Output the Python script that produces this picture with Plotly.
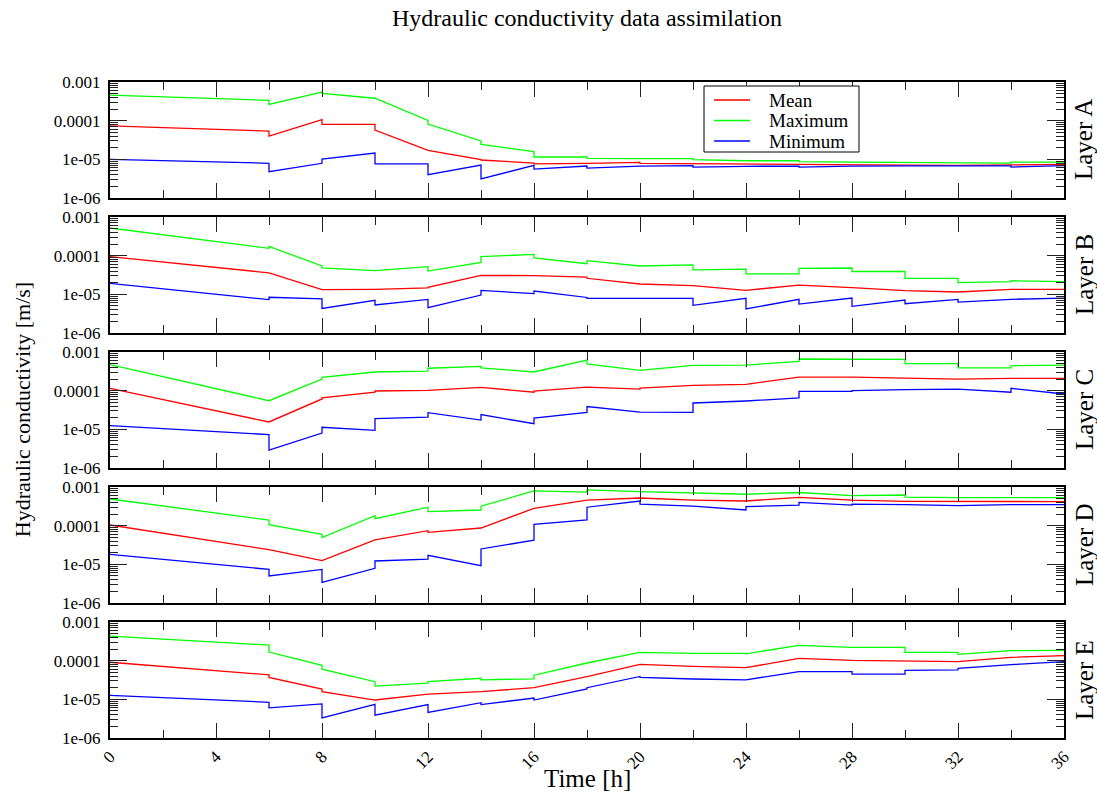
import plotly.graph_objects as go
from plotly.subplots import make_subplots

times = [0, 6, 8, 10, 12, 14, 16, 18, 20, 22, 24, 26, 28, 30, 32, 34, 36]
layers = ["Layer A", "Layer B", "Layer C", "Layer D", "Layer E"]
series_names = ["Mean", "Maximum", "Minimum"]
series_colors = ["#ff0000", "#00ff00", "#0000ff"]

# value reached just before each update time ("in") and value right after the update ("out")
a_mean_in  = [7.3e-5, 5.4e-5, 1.06e-4, 8.0e-5, 1.71e-5, 9.8e-6, 8.0e-6, 7.9e-6, 8.3e-6, 7.7e-6, 7.4e-6, 7.3e-6, 7.3e-6, 7.1e-6, 7.0e-6, 7.3e-6, 7.4e-6]
a_mean_out = [7.3e-5, 4.0e-5, 8.0e-5, 5.7e-5, 1.71e-5, 9.6e-6, 7.6e-6, 7.9e-6, 7.9e-6, 7.7e-6, 7.4e-6, 7.3e-6, 7.3e-6, 7.1e-6, 7.0e-6, 7.3e-6, 7.4e-6]
a_max_in   = [4.6e-4, 3.36e-4, 5.5e-4, 3.8e-4, 1.02e-4, 2.98e-5, 1.58e-5, 1.15e-5, 1.04e-5, 1.04e-5, 9.2e-6, 9.2e-6, 8.5e-6, 8.4e-6, 8.2e-6, 8.0e-6, 8.5e-6]
a_max_out  = [4.6e-4, 2.64e-4, 5.1e-4, 3.8e-4, 8.2e-5, 2.44e-5, 1.15e-5, 1.06e-5, 1.04e-5, 9.8e-6, 9.2e-6, 8.7e-6, 8.5e-6, 8.4e-6, 8.2e-6, 8.5e-6, 8.5e-6]
a_min_in   = [1.0e-5, 7.9e-6, 7.9e-6, 1.46e-5, 7.6e-6, 7.1e-6, 7.0e-6, 6.7e-6, 6.7e-6, 6.9e-6, 6.6e-6, 6.7e-6, 6.7e-6, 6.8e-6, 6.8e-6, 6.8e-6, 6.9e-6]
a_min_out  = [1.0e-5, 4.8e-6, 1.02e-5, 7.6e-6, 4.0e-6, 3.1e-6, 5.6e-6, 5.9e-6, 6.7e-6, 6.3e-6, 6.6e-6, 6.3e-6, 6.7e-6, 6.8e-6, 6.8e-6, 6.3e-6, 6.9e-6]

b_mean_in  = [9.4e-5, 3.6e-5, 1.32e-5, 1.35e-5, 1.46e-5, 3.1e-5, 3.04e-5, 2.8e-5, 1.85e-5, 1.67e-5, 1.27e-5, 1.74e-5, 1.49e-5, 1.25e-5, 1.15e-5, 1.35e-5, 1.35e-5]
b_mean_out = [9.4e-5, 3.6e-5, 1.32e-5, 1.35e-5, 1.52e-5, 3.1e-5, 3.04e-5, 2.6e-5, 1.85e-5, 1.67e-5, 1.27e-5, 1.74e-5, 1.49e-5, 1.25e-5, 1.15e-5, 1.35e-5, 1.35e-5]
b_max_in   = [5.2e-4, 1.55e-4, 5.4e-5, 4.1e-5, 5.2e-5, 6.7e-5, 1.08e-4, 6.2e-5, 5.4e-5, 5.8e-5, 4.5e-5, 3.4e-5, 4.8e-5, 3.9e-5, 2.6e-5, 2.13e-5, 2.13e-5]
b_max_out  = [5.2e-4, 1.74e-4, 4.8e-5, 4.1e-5, 4.0e-5, 9.4e-5, 8.7e-5, 7.4e-5, 5.4e-5, 4.3e-5, 3.4e-5, 4.7e-5, 3.9e-5, 2.6e-5, 2.0e-5, 2.25e-5, 2.13e-5]
b_min_in   = [1.92e-5, 7.3e-6, 7.6e-6, 7.0e-6, 7.4e-6, 9.6e-6, 1.04e-5, 8.3e-6, 7.9e-6, 7.9e-6, 7.9e-6, 7.4e-6, 8.0e-6, 7.1e-6, 7.4e-6, 7.4e-6, 8.0e-6]
b_min_out  = [1.92e-5, 8.4e-6, 4.3e-6, 5.3e-6, 4.5e-6, 1.27e-5, 1.22e-5, 7.9e-6, 7.9e-6, 5.2e-6, 4.2e-6, 5.6e-6, 4.9e-6, 5.7e-6, 6.3e-6, 7.4e-6, 8.0e-6]

c_mean_in  = [1.15e-4, 1.55e-5, 6.1e-5, 9.2e-5, 1.02e-4, 1.22e-4, 9.1e-5, 1.24e-4, 1.1e-4, 1.37e-4, 1.46e-4, 2.25e-4, 2.25e-4, 2.08e-4, 2.0e-4, 2.08e-4, 2.08e-4]
c_mean_out = [1.15e-4, 1.55e-5, 6.5e-5, 9.8e-5, 1.02e-4, 1.22e-4, 9.8e-5, 1.24e-4, 1.17e-4, 1.37e-4, 1.46e-4, 2.25e-4, 2.25e-4, 2.08e-4, 2.0e-4, 2.08e-4, 2.08e-4]
c_max_in   = [4.7e-4, 5.5e-5, 2.0e-4, 3.04e-4, 3.2e-4, 4.25e-4, 3.04e-4, 6.2e-4, 3.36e-4, 4.5e-4, 4.6e-4, 5.7e-4, 6.6e-4, 6.45e-4, 5.0e-4, 3.9e-4, 4.6e-4]
c_max_out  = [4.7e-4, 5.5e-5, 2.2e-4, 3.04e-4, 3.8e-4, 3.9e-4, 3.04e-4, 4.9e-4, 3.36e-4, 4.5e-4, 4.6e-4, 6.6e-4, 6.6e-4, 5.0e-4, 3.9e-4, 4.4e-4, 4.6e-4]
c_min_in   = [1.25e-5, 7.3e-6, 8.0e-6, 9.4e-6, 2.08e-5, 1.74e-5, 1.4e-5, 2.75e-5, 2.8e-5, 2.75e-5, 5.4e-5, 6.5e-5, 9.6e-5, 1.06e-4, 1.1e-4, 9.1e-5, 8.2e-5]
c_min_out  = [1.25e-5, 2.9e-6, 1.13e-5, 1.89e-5, 2.7e-5, 2.4e-5, 1.96e-5, 3.9e-5, 2.8e-5, 4.8e-5, 5.4e-5, 9.6e-5, 1.0e-4, 1.06e-4, 1.1e-4, 1.15e-4, 8.2e-5]

d_mean_in  = [1.04e-4, 2.4e-5, 1.25e-5, 4.3e-5, 7.4e-5, 8.7e-5, 2.8e-4, 4.6e-4, 5.2e-4, 4.6e-4, 4.35e-4, 5.4e-4, 4.6e-4, 4.25e-4, 4.2e-4, 4.25e-4, 4.2e-4]
d_mean_out = [1.04e-4, 2.4e-5, 1.25e-5, 4.3e-5, 6.7e-5, 8.7e-5, 2.8e-4, 4.6e-4, 5.2e-4, 4.6e-4, 4.35e-4, 5.4e-4, 4.6e-4, 4.25e-4, 4.2e-4, 4.25e-4, 4.2e-4]
d_max_in   = [4.9e-4, 1.4e-4, 6.0e-5, 1.82e-4, 3.0e-4, 2.54e-4, 7.9e-4, 7.4e-4, 7.6e-4, 7.1e-4, 6.5e-4, 7.2e-4, 6.0e-4, 6.2e-4, 5.3e-4, 5.4e-4, 5.3e-4]
d_max_out  = [4.9e-4, 1.06e-4, 4.9e-5, 1.52e-4, 2.3e-4, 3.2e-4, 7.9e-4, 8.4e-4, 7.6e-4, 7.1e-4, 6.5e-4, 7.2e-4, 6.0e-4, 5.5e-4, 5.3e-4, 5.4e-4, 5.3e-4]
d_min_in   = [1.8e-5, 7.4e-6, 7.4e-6, 7.9e-6, 1.37e-5, 9.2e-6, 4.2e-5, 1.4e-4, 4.35e-4, 3.2e-4, 2.54e-4, 3.4e-4, 3.4e-4, 3.5e-4, 3.3e-4, 3.5e-4, 3.5e-4]
d_min_out  = [1.8e-5, 5.0e-6, 3.4e-6, 1.22e-5, 1.71e-5, 2.5e-5, 1.08e-4, 3.0e-4, 3.6e-4, 3.2e-4, 3.1e-4, 4.0e-4, 3.6e-4, 3.5e-4, 3.3e-4, 3.5e-4, 3.5e-4]

e_mean_in  = [9.1e-5, 4.3e-5, 1.85e-5, 9.6e-6, 1.37e-5, 1.58e-5, 2.0e-5, 3.85e-5, 8.0e-5, 7.1e-5, 6.6e-5, 1.15e-4, 1.02e-4, 9.6e-5, 9.4e-5, 1.22e-4, 1.35e-4]
e_mean_out = [9.1e-5, 3.7e-5, 1.58e-5, 9.6e-6, 1.37e-5, 1.58e-5, 2.0e-5, 3.85e-5, 8.0e-5, 7.1e-5, 6.6e-5, 1.15e-4, 1.02e-4, 9.6e-5, 9.4e-5, 1.22e-4, 1.35e-4]
e_max_in   = [4.3e-4, 2.54e-4, 7.6e-5, 2.86e-5, 2.64e-5, 3.5e-5, 3.4e-5, 8.4e-5, 1.64e-4, 1.55e-4, 1.55e-4, 2.5e-4, 2.2e-4, 2.2e-4, 1.64e-4, 1.82e-4, 1.85e-4]
e_max_out  = [4.3e-4, 1.67e-4, 6.0e-5, 2.2e-5, 2.86e-5, 3.2e-5, 4.2e-5, 8.7e-5, 1.64e-4, 1.55e-4, 1.5e-4, 2.5e-4, 2.2e-4, 1.64e-4, 1.46e-4, 1.82e-4, 1.85e-4]
e_min_in   = [1.27e-5, 8.4e-6, 7.6e-6, 7.4e-6, 7.3e-6, 8.2e-6, 1.08e-5, 1.85e-5, 3.9e-5, 3.36e-5, 3.2e-5, 5.2e-5, 5.2e-5, 4.5e-5, 5.8e-5, 7.9e-5, 9.4e-5]
e_min_out  = [1.27e-5, 6.0e-6, 3.3e-6, 3.9e-6, 4.6e-6, 7.3e-6, 9.6e-6, 2.0e-5, 3.7e-5, 3.36e-5, 3.2e-5, 5.2e-5, 4.5e-5, 5.6e-5, 6.3e-5, 7.9e-5, 9.4e-5]

layer_data = [
    [(a_mean_in, a_mean_out), (a_max_in, a_max_out), (a_min_in, a_min_out)],
    [(b_mean_in, b_mean_out), (b_max_in, b_max_out), (b_min_in, b_min_out)],
    [(c_mean_in, c_mean_out), (c_max_in, c_max_out), (c_min_in, c_min_out)],
    [(d_mean_in, d_mean_out), (d_max_in, d_max_out), (d_min_in, d_min_out)],
    [(e_mean_in, e_mean_out), (e_max_in, e_max_out), (e_min_in, e_min_out)],
]

y_tickvals = [1e-6, 1e-5, 1e-4, 1e-3]
y_ticktext = ["1e-06", "1e-05", "0.0001", "0.001"]
x_tickvals = [0, 4, 8, 12, 16, 20, 24, 28, 32, 36]

SERIF = "Liberation Serif"

# page geometry (pixels) used to place the hand-drawn legend
PLOT_L, PLOT_R, PLOT_T, PLOT_B = 110, 1064, 82, 738


def px(x):
    return (x - PLOT_L) / (PLOT_R - PLOT_L)


def py(y):
    return (PLOT_B - y) / (PLOT_B - PLOT_T)


def sawtooth(vin, vout):
    xs, ys = [], []
    for i, t in enumerate(times):
        if i == 0:
            xs.append(t); ys.append(vout[i])
        else:
            xs += [t, t]; ys += [vin[i], vout[i]]
    return xs, ys


fig = make_subplots(rows=5, cols=1, vertical_spacing=19 / 656)

for r, series in enumerate(layer_data, start=1):
    for k, (vin, vout) in enumerate(series):
        xs, ys = sawtooth(vin, vout)
        fig.add_trace(go.Scatter(x=xs, y=ys, mode="lines", name=series_names[k],
                                 line=dict(color=series_colors[k], width=1.3),
                                 showlegend=False), row=r, col=1)

minor_y = [m * 10 ** e for e in (-6, -5, -4) for m in range(2, 10)]

for r in range(1, 6):
    fig.update_xaxes(range=[0, 36], tickvals=x_tickvals,
                     ticktext=[str(v) for v in x_tickvals] if r == 5 else [""] * len(x_tickvals),
                     ticks="inside", ticklen=15, tickwidth=1, tickcolor="#222",
                     minor=dict(ticks="inside", ticklen=8, dtick=2, tick0=0, tickcolor="#222", tickwidth=1),
                     showline=True, linecolor="black", linewidth=2, mirror="ticks",
                     showgrid=False, zeroline=False, tickangle=-45,
                     tickfont=dict(family=SERIF, size=17, color="black"),
                     row=r, col=1)
    fig.update_yaxes(type="log", range=[-6, -3], tickvals=y_tickvals, ticktext=y_ticktext,
                     ticks="inside", ticklen=17, tickwidth=1, tickcolor="#222",
                     minor=dict(ticks="inside", ticklen=8, tickvals=minor_y, tickcolor="#222", tickwidth=1),
                     showline=True, linecolor="black", linewidth=2, mirror="ticks",
                     showgrid=False, zeroline=False, ticklabelstandoff=4,
                     tickfont=dict(family=SERIF, size=17, color="black"),
                     row=r, col=1)

annotations = []
shapes = []
panel_centers = [(540 + 656) / 2, (405 + 521) / 2, (270 + 386) / 2, (135 + 251) / 2, (0 + 116) / 2]
for name, c in zip(layers, panel_centers):
    annotations.append(dict(text=name, x=1.021, y=c / 656, xref="paper", yref="paper",
                            textangle=-90, showarrow=False, xanchor="center", yanchor="middle",
                            font=dict(family=SERIF, size=25, color="black")))
annotations.append(dict(text="Hydraulic conductivity [m/s]", x=-0.092, y=0.5, xref="paper", yref="paper",
                        textangle=-90, showarrow=False, xanchor="center", yanchor="middle",
                        font=dict(family=SERIF, size=22, color="black")))
annotations.append(dict(text="Time [h]", x=0.5, y=-0.061, xref="paper", yref="paper",
                        showarrow=False, xanchor="center", yanchor="middle",
                        font=dict(family=SERIF, size=25, color="black")))
annotations.append(dict(text="Hydraulic conductivity data assimilation", x=0.5, y=1.0976,
                        xref="paper", yref="paper", showarrow=False, xanchor="center", yanchor="middle",
                        font=dict(family=SERIF, size=24, color="black")))

# legend box drawn by hand to reproduce the tight spacing of the original
shapes.append(dict(type="rect", xref="paper", yref="paper",
                   x0=px(704), x1=px(859), y0=py(152), y1=py(86),
                   line=dict(color="black", width=1), fillcolor="white", layer="above"))
for i, (name, col) in enumerate(zip(series_names, series_colors)):
    yy = 100 + i * 20.5
    shapes.append(dict(type="line", xref="paper", yref="paper",
                       x0=px(714), x1=px(750), y0=py(yy), y1=py(yy),
                       line=dict(color=col, width=1.3), layer="above"))
    annotations.append(dict(text=name, x=px(767), y=py(yy), xref="paper", yref="paper",
                            showarrow=False, xanchor="left", yanchor="middle",
                            font=dict(family=SERIF, size=19, color="black")))

fig.update_layout(
    width=1097, height=797,
    margin=dict(l=PLOT_L, r=1097 - PLOT_R, t=PLOT_T, b=797 - PLOT_B),
    paper_bgcolor="white", plot_bgcolor="white",
    font=dict(family=SERIF, color="black"),
    annotations=annotations, shapes=shapes,
    showlegend=False,
)

fig.write_html("out.html")
